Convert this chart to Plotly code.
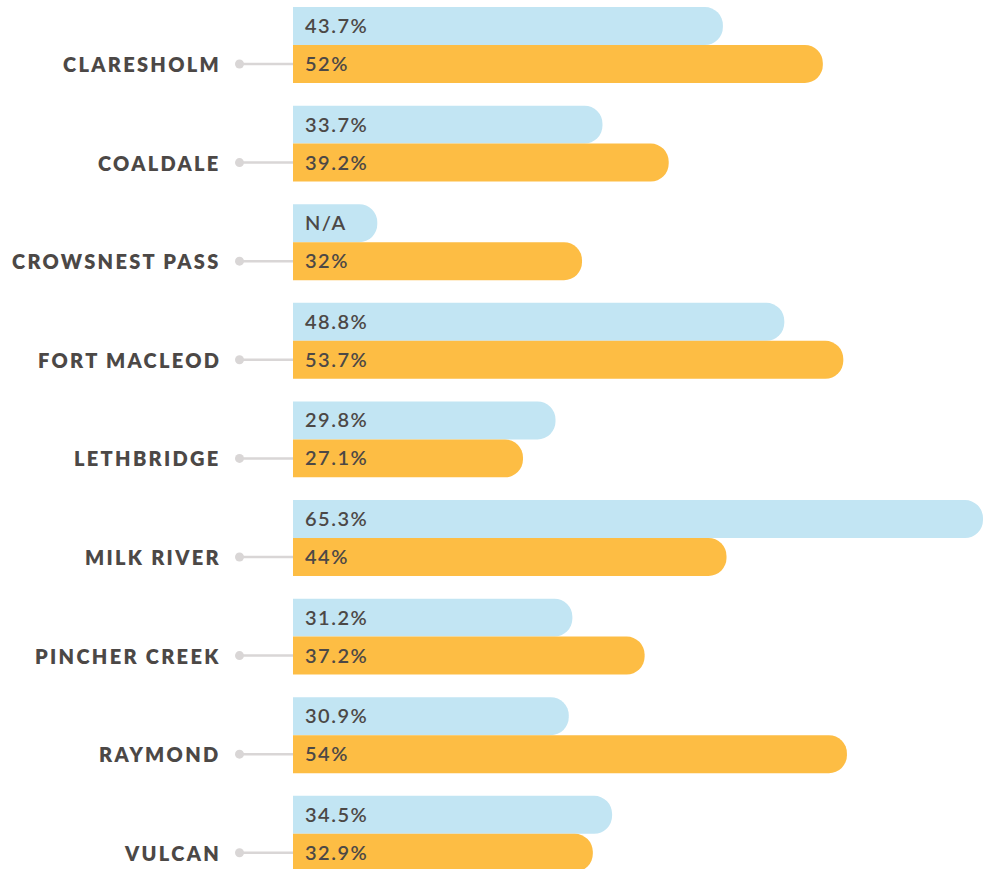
import plotly.graph_objects as go

# ---- data ----
categories = ["CLARESHOLM", "COALDALE", "CROWSNEST PASS", "FORT MACLEOD", "LETHBRIDGE",
              "MILK RIVER", "PINCHER CREEK", "RAYMOND", "VULCAN"]
blue_values = [43.7, 33.7, None, 48.8, 29.8, 65.3, 31.2, 30.9, 34.5]
orange_values = [52, 39.2, 32, 53.7, 27.1, 44, 37.2, 54, 32.9]

# ---- style / layout constants ----
W, H = 987, 869
BASE = 8.0            # value where bars start (truncated axis)
BAR_LEFT_PX = 293     # pixel where bars start
MAX_RIGHT_PX = 983    # pixel where the largest value ends
NA_STUB = 7.0         # length of the N/A placeholder bar
BLUE = "#c2e5f3"
ORANGE = "#fdbd44"
TEXT = "#4c4846"
GREY = "#d9d6d6"
FONT = "Lato"
BARGAP = 0.23
PITCH_PX = 98.6
FIRST_CENTER_PX = 45

vmax = max(v for v in blue_values + orange_values if v is not None)
k = (MAX_RIGHT_PX - BAR_LEFT_PX) / (vmax - BASE)   # px per unit
# axis shows (value - BASE), so bars start at 0
x_lo = -BAR_LEFT_PX / k
x_hi = x_lo + W / k
y_top = -FIRST_CENTER_PX / PITCH_PX
y_bot = y_top + H / PITCH_PX
half = (1 - BARGAP) / 4  # offset of each bar centre from the group centre

ypos = list(range(len(categories)))

blue_len = [(v - BASE) if v is not None else NA_STUB for v in blue_values]
orange_len = [v - BASE for v in orange_values]

fig = go.Figure()
fig.add_trace(go.Bar(y=ypos, x=blue_len, orientation="h",
                     marker=dict(color=BLUE, cornerradius=19, line=dict(width=0)),
                     hoverinfo="skip"))
fig.add_trace(go.Bar(y=ypos, x=orange_len, orientation="h",
                     marker=dict(color=ORANGE, cornerradius=19, line=dict(width=0)),
                     hoverinfo="skip"))

annotations = []
shapes = []
def fmt(v):
    if v is None:
        return "N/A"
    return f"{v:g}%"

for i, cat in enumerate(categories):
    yb = i - half
    yo = i + half
    for yy, v in ((yb, blue_values[i]), (yo, orange_values[i])):
        annotations.append(dict(
            x=0, y=yy, xref="x", yref="y", xanchor="left", yanchor="middle",
            xshift=10, yshift=1, showarrow=False,
            text=f'<span style="letter-spacing:1.5px">{fmt(v)}</span>',
            font=dict(family=FONT, size=20, color=TEXT, weight=600)))
    annotations.append(dict(
        x=0, y=yo, xref="x", yref="y", xanchor="right", yanchor="middle",
        xshift=-70, yshift=0, showarrow=False,
        text=f'<span style="letter-spacing:2.3px">{cat}</span>',
        font=dict(family=FONT, size=20, color=TEXT, weight=800)))
    shapes.append(dict(type="line", xref="x", yref="y", xsizemode="pixel",
                       xanchor=0, x0=-53, x1=0, y0=yo, y1=yo,
                       line=dict(color=GREY, width=2.5), layer="below"))
    shapes.append(dict(type="circle", xref="x", yref="y", xsizemode="pixel",
                       ysizemode="pixel", xanchor=0, yanchor=yo,
                       x0=-58, x1=-49, y0=-4.5, y1=4.5,
                       fillcolor=GREY, line=dict(width=0), layer="below"))

fig.update_layout(
    width=W, height=H,
    margin=dict(l=0, r=0, t=0, b=0),
    paper_bgcolor="white", plot_bgcolor="white",
    barmode="group", bargap=BARGAP, bargroupgap=0,
    showlegend=False,
    xaxis=dict(range=[x_lo, x_hi], visible=False, fixedrange=True),
    yaxis=dict(range=[y_bot, y_top], visible=False, fixedrange=True),
    annotations=annotations, shapes=shapes,
)

fig.write_html("out.html", config={"displayModeBar": False},
               post_script="document.body.style.margin='0';document.body.style.overflow='hidden';")
